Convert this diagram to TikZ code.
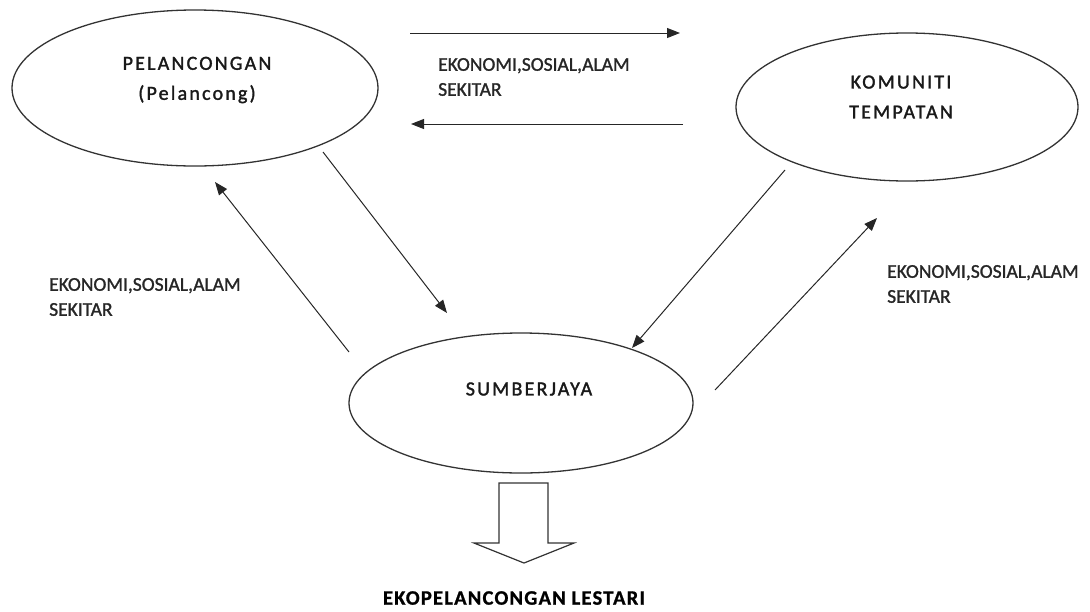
\documentclass[tikz,border=0pt]{standalone}
\usepackage{fontspec}
\setmainfont{Carlito}
\usetikzlibrary{shapes.geometric,arrows.meta}
\begin{document}
\begin{tikzpicture}[x=1pt,y=-1pt,
  ell/.style={ellipse,draw=black!80,line width=1.3pt,inner sep=0pt},
  etext/.style={align=center,inner sep=0pt,text=black!90,
    font=\fontsize{20}{30}\selectfont\addfontfeature{LetterSpace=11,FakeBold=1.6}},
  lab/.style={align=left,anchor=west,inner sep=0pt,text=black!85,
    font=\fontsize{19.5}{25}\selectfont\addfontfeature{FakeBold=1.3}},
  conn/.style={draw=black!85,line width=1pt,-{Triangle[length=13pt,width=10pt]}},
  blk/.style={draw=black!80,line width=1.2pt,fill=white}]
\useasboundingbox (0,0) rectangle (1090,611);
% ellipses
\node[ell,minimum width=366pt,minimum height=156pt] (pel) at (195,88) {};
\node[ell,minimum width=342pt,minimum height=148pt] (kom) at (907,107) {};
\node[ell,minimum width=344pt,minimum height=140pt] (sum) at (521,403) {};
% texts in ellipses
\node[etext] (pelT) at (197,80) {PELANCONGAN\\(Pelancong)};
\node[etext] (komT) at (901,97) {KOMUNITI\\TEMPATAN};
\node[etext] (sumT) at (529,389) {SUMBERJAYA};
% labels
\node[lab] (labTop) at (438,77) {EKONOMI,SOSIAL,ALAM\\SEKITAR};
\node[lab] (labLeft) at (49,297) {EKONOMI,SOSIAL,ALAM\\SEKITAR};
\node[lab] (labRight) at (887,284) {EKONOMI,SOSIAL,ALAM\\SEKITAR};
% connector end points
\coordinate (a1) at (410,33);  \coordinate (a2) at (680,33);
\coordinate (b1) at (683,124); \coordinate (b2) at (411,124);
\coordinate (c1) at (349,352); \coordinate (c2) at (215,182);
\coordinate (d1) at (323,152); \coordinate (d2) at (447,313);
\coordinate (e1) at (785,170); \coordinate (e2) at (632,348);
\coordinate (f1) at (715,390); \coordinate (f2) at (877,218);
\draw[conn] (a1) -- (a2);
\draw[conn] (b1) -- (b2);
\draw[conn] (c1) -- (c2);
\draw[conn] (d1) -- (d2);
\draw[conn] (e1) -- (e2);
\draw[conn] (f1) -- (f2);
% block arrow
\draw[blk] (499,483) -- (548,483) -- (548,543) -- (574,543) -- (524,563)
  -- (474,543) -- (499,543) -- cycle;
\node[inner sep=0pt,text=black,
  font=\fontsize{20.5}{24}\selectfont\bfseries\addfontfeature{LetterSpace=6,FakeBold=1}]
  (eko) at (514,598) {EKOPELANCONGAN LESTARI};
\end{tikzpicture}
\end{document}
